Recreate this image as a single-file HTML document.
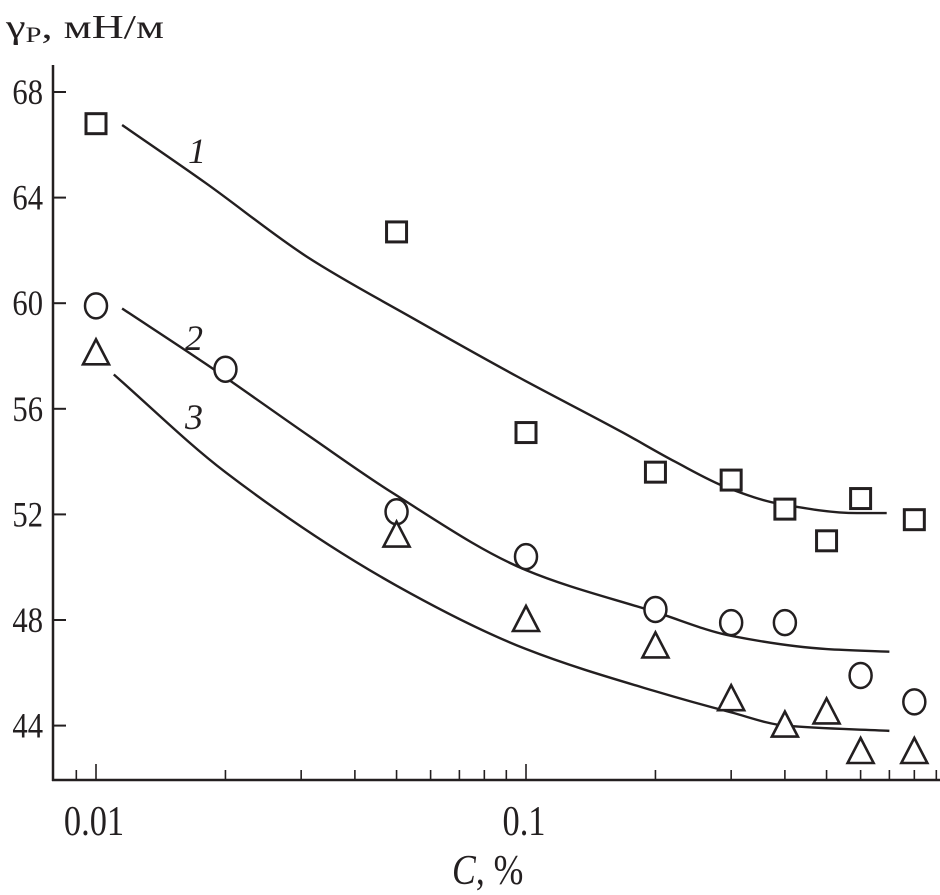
<!DOCTYPE html>
<html><head><meta charset="utf-8">
<style>
html,body{margin:0;padding:0;background:#fff;}
svg{display:block;font-family:"Liberation Serif",serif;}
</style></head>
<body>
<svg id="chart" width="940" height="895" viewBox="0 0 940 895" xmlns="http://www.w3.org/2000/svg">
<g id="axes"></g>
<g id="curves"></g>
<g id="marks"></g>
<text x="6" y="38" font-size="34" fill="#231f20" textLength="158" lengthAdjust="spacingAndGlyphs">γ<tspan font-size="22" dy="4">P</tspan><tspan dy="-4">, мН/м</tspan></text>
<text transform="translate(452,884) scale(0.85,1)" font-size="42" fill="#231f20"><tspan font-style="italic">C</tspan>, %</text>
<text x="188" y="163" font-size="36" font-style="italic" fill="#231f20">1</text>
<text x="185" y="350" font-size="36" font-style="italic" fill="#231f20">2</text>
<text x="185" y="429" font-size="36" font-style="italic" fill="#231f20">3</text>
</svg>
<script>
const yTicks = [44, 48, 52, 56, 60, 64, 68];
const xTickLabels = ["0.01", "0.1"];
const xTickValues = [0.01, 0.1];
const sqX = [0.01, 0.05, 0.1, 0.2, 0.3, 0.4, 0.5, 0.6, 0.8];
const sqY = [66.8, 62.7, 55.1, 53.6, 53.3, 52.2, 51.0, 52.6, 51.8];
const ciX = [0.01, 0.02, 0.05, 0.1, 0.2, 0.3, 0.4, 0.6, 0.8];
const ciY = [59.9, 57.5, 52.1, 50.4, 48.4, 47.9, 47.9, 45.9, 44.9];
const trX = [0.01, 0.05, 0.1, 0.2, 0.3, 0.4, 0.5, 0.6, 0.8];
const trY = [58.1, 51.2, 48.0, 47.0, 45.0, 44.0, 44.5, 43.0, 43.0];
const c1X = [0.0115, 0.018, 0.031, 0.055, 0.096, 0.168, 0.222, 0.295, 0.389, 0.589, 0.69];
const c1Y = [66.75, 64.55, 61.75, 59.4, 57.2, 55.1, 54.0, 53.0, 52.4, 52.05, 52.05];
const c2X = [0.0115, 0.018, 0.0313, 0.049, 0.1, 0.2, 0.3, 0.5, 0.7];
const c2Y = [59.8, 57.7, 54.97, 52.81, 49.89, 48.3, 47.4, 46.9, 46.8];
const c3X = [0.011, 0.02, 0.05, 0.1, 0.2, 0.3, 0.4, 0.7];
const c3Y = [57.3, 53.6, 49.3, 46.9, 45.3, 44.5, 44.0, 43.8];

const NS = "http://www.w3.org/2000/svg";
const INK = "#231f20";
function X(v){ return 96 + 430 * Math.log10(v / 0.01); }
function Y(v){ return 92 + (68 - v) * 26.4; }
function mk(tag, attrs, parent){
  const e = document.createElementNS(NS, tag);
  for (const k in attrs) e.setAttribute(k, attrs[k]);
  parent.appendChild(e); return e;
}
const axes = document.getElementById('axes');
const yAxis = mk('line', {x1:53, y1:65, x2:53, y2:781, stroke:INK, 'stroke-width':2.5}, axes);


const xAxis = mk('line', {x1:52, y1:780, x2:940, y2:780, stroke:INK, 'stroke-width':2.5}, axes);


yTicks.forEach(t => {
  const l = mk('line', {x1:53, y1:Y(t), x2:66, y2:Y(t), stroke:INK, 'stroke-width':2}, axes);
  
  
  const tx = mk('text', {transform:`translate(43,${Y(t)+12}) scale(0.85,1)`, 'font-size':36, 'text-anchor':'end', fill:INK}, axes);
  
  
  tx.textContent = t;
});
for (let dec of [0.001, 0.01, 0.1]) {
  for (let m = 1; m <= 9; m++) {
    const v = dec * m;
    const x = X(v);
    if (x < 60 || x > 938) continue;
    const major = (m === 1);
    const l = mk('line', {x1:x, y1:780, x2:x, y2: major ? 764 : 770, stroke:INK, 'stroke-width':1.6}, axes);
    
    
  }
}
xTickValues.forEach((v, i) => {
  const tx = mk('text', {transform:`translate(${X(v)-2},835) scale(0.82,1)`, 'font-size':42, 'text-anchor':'middle', fill:INK}, axes);
  
  
  tx.textContent = xTickLabels[i];
});
function pathFor(xs, ys){
  const px = xs.map(X), py = ys.map(Y), n = px.length;
  const d = [], m = new Array(n);
  for (let i = 0; i < n-1; i++) d.push((py[i+1]-py[i])/(px[i+1]-px[i]));
  m[0] = d[0]; m[n-1] = d[n-2];
  for (let i = 1; i < n-1; i++) {
    if (d[i-1]*d[i] <= 0) m[i] = 0;
    else {
      const h0 = px[i]-px[i-1], h1 = px[i+1]-px[i];
      const w1 = 2*h1 + h0, w2 = h1 + 2*h0;
      m[i] = (w1+w2)/(w1/d[i-1] + w2/d[i]);
    }
  }
  let s = `M${px[0]},${py[0]}`;
  for (let i = 0; i < n-1; i++) {
    const h = (px[i+1]-px[i])/3;
    s += ` C${px[i]+h},${py[i]+m[i]*h} ${px[i+1]-h},${py[i+1]-m[i+1]*h} ${px[i+1]},${py[i+1]}`;
  }
  return s;
}
const curves = document.getElementById('curves');
[[c1X,c1Y,'curve-1'],[c2X,c2Y,'curve-2'],[c3X,c3Y,'curve-3']].forEach(([xs,ys,n]) => {
  const pth = mk('path', {d:pathFor(xs,ys), fill:'none', stroke:INK, 'stroke-width':2.4}, curves);
  
  
});
const marks = document.getElementById('marks');
sqX.forEach((x, i) => {
  const cx = X(x), cy = Y(sqY[i]);
  const r = mk('rect', {x:cx-10, y:cy-10, width:20, height:20, fill:'#fff', stroke:INK, 'stroke-width':3}, marks);
  
  
});
ciX.forEach((x, i) => {
  const c = mk('ellipse', {cx:X(x), cy:Y(ciY[i]), rx:11, ry:12.5, fill:'#fff', stroke:INK, 'stroke-width':2.5}, marks);
  
  
});
trX.forEach((x, i) => {
  const cx = X(x), cy = Y(trY[i]);
  const t = mk('polygon', {points:`${cx-13},${cy+11} ${cx+13},${cy+11} ${cx},${cy-14}`, fill:'#fff', stroke:INK, 'stroke-width':2.6}, marks);
  
  
});
</script>
</body></html>
